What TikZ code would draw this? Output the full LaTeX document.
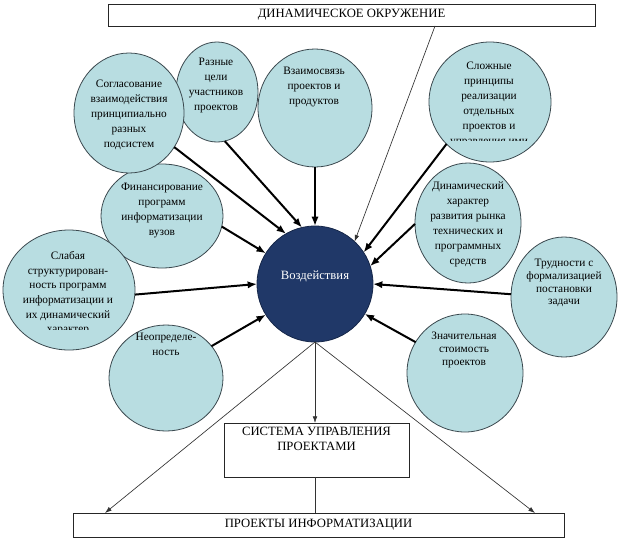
\documentclass[tikz,border=0pt]{standalone}
\usepackage{fontspec}
\setmainfont{Liberation Serif}
\usetikzlibrary{shapes.geometric,arrows.meta}
\definecolor{bubc}{RGB}{184,221,225}
\definecolor{bubd}{RGB}{58,72,78}
\definecolor{navyc}{RGB}{32,56,104}
\begin{document}
\begin{tikzpicture}[x=0.75pt,y=-0.75pt,
  bub/.style 2 args={ellipse, draw=bubd, fill=bubc, line width=0.6pt, inner sep=0pt, outer sep=0pt, minimum width=#1*1.5pt, minimum height=#2*1.5pt},
  txt/.style={font=\fontsize{8.5}{11.25}\selectfont, align=center, inner sep=0pt, anchor=north},
  boxtxt/.style={font=\fontsize{9.5}{11.25}\selectfont, align=center, inner sep=0pt},
  rectbox/.style={draw=black!85, line width=0.6pt, inner sep=0pt, outer sep=0pt, fill=white},
  bigarr/.style={line width=1.5pt, -{Latex[length=7pt,width=5.5pt]}},
  thinarr/.style={line width=0.5pt, draw=black!80, -{Latex[length=5pt,width=3.5pt]}},
  thinline/.style={line width=0.5pt, draw=black!80}
]
\useasboundingbox (0,0) rectangle (623,543);

% top box
\node[rectbox, boxtxt, minimum width=487*0.75pt, minimum height=22*0.75pt] (env) at (351.5,15) {ДИНАМИЧЕСКОЕ ОКРУЖЕНИЕ};

% bubbles
\node[bub={41}{50}] (c2) at (217,92) {};
\node[bub={61}{52}] (c5) at (162,216) {};
\node[bub={55}{60}] (c1) at (129,113) {};
\node[bub={57}{59}] (c3) at (315,108) {};
\node[bub={61}{60}] (c4) at (490,102) {};
\node[bub={53}{60}] (c8) at (468,223) {};
\node[bub={66}{60}] (c6) at (69,290) {};
\node[bub={57}{53}] (c7) at (166,378) {};
\node[bub={53}{60}] (c9) at (564,297) {};
\node[bub={58}{59}] (c10) at (465,373) {};

% centre
\node[circle, draw=navyc!70!black, line width=0.6pt, fill=navyc, minimum size=116*0.75pt, inner sep=0pt, outer sep=0pt] (ctr) at (315,284) {};
\node[boxtxt, text=white] (ctrt) at (315,276) {Воздействия};

% bubble texts
\node[txt] (t1) at (129,80) {Согласование\\взаимодействия\\принципиально\\разных\\подсистем};
\node[txt] (t2) at (216,58) {Разные\\цели\\участников\\проектов};
\node[txt] (t3) at (314,67) {Взаимосвязь\\проектов и\\продуктов};
\begin{scope}
\clip (420,40) rectangle (560,140.5);
\node[txt] (t4) at (489,62) {Сложные\\принципы\\реализации\\отдельных\\проектов и\\управления ими};
\end{scope}
\node[txt] (t5) at (162,183) {Финансирование\\программ\\информатизации\\вузов};
\begin{scope}
\clip (0,240) rectangle (140,329.5);
\node[txt, font=\fontsize{8.5}{11}\selectfont] (t6) at (68,251) {Слабая\\структурирован-\\ность программ\\информатизации и\\их динамический\\характер};
\end{scope}
\node[txt] (t7) at (166,333) {Неопределе-\\ность};
\node[txt] (t8) at (468,181) {Динамический\\характер\\развития рынка\\технических и\\программных\\средств};
\node[txt, font=\fontsize{8.5}{9.5}\selectfont] (t9) at (564,259) {Трудности с\\формализацией\\постановки\\задачи};
\node[txt, font=\fontsize{8.5}{9.75}\selectfont] (t10) at (464,332) {Значительная\\стоимость\\проектов};

% bottom boxes
\node[rectbox, minimum width=185*0.75pt, minimum height=54*0.75pt] (mbox) at (316.5,450) {};
\node[boxtxt, anchor=north] (mtxt) at (316.5,427) {СИСТЕМА УПРАВЛЕНИЯ\\ПРОЕКТАМИ};
\node[rectbox, boxtxt, minimum width=491*0.75pt, minimum height=24*0.75pt] (bbox) at (318.5,525) {ПРОЕКТЫ ИНФОРМАТИЗАЦИИ};

% arrows into centre
\draw[bigarr] (c1.-37) -- (ctr.120);
\draw[bigarr] (c2.-81) -- (ctr.103);
\draw[bigarr] (c3.south) -- (ctr.north);
\draw[bigarr] (c4.224) -- (ctr.33);
\draw[bigarr] (c8.181) -- (ctr.18);
\draw[bigarr] (c9.177) -- (ctr.0);
\draw[bigarr] (c10.148) -- (ctr.-31);
\draw[bigarr] (c5.-10) -- (ctr.148);
\draw[bigarr] (c6.-4) -- (ctr.180);
\draw[bigarr] (c7.35) -- (ctr.212);

% environment arrow
\coordinate (envp) at (435,26);
\draw[thinarr] (envp) -- (ctr.47);

% outputs
\coordinate (blp) at (105,513);
\coordinate (brp) at (535,513);
\draw[thinarr] (ctr.south) -- (ctr.south |- mbox.north);
\draw[thinarr] (ctr.south) -- (blp);
\draw[thinarr] (ctr.south) -- (brp);
\draw[thinline] (ctr.south |- mbox.south) -- (ctr.south |- bbox.north);
\end{tikzpicture}
\end{document}
